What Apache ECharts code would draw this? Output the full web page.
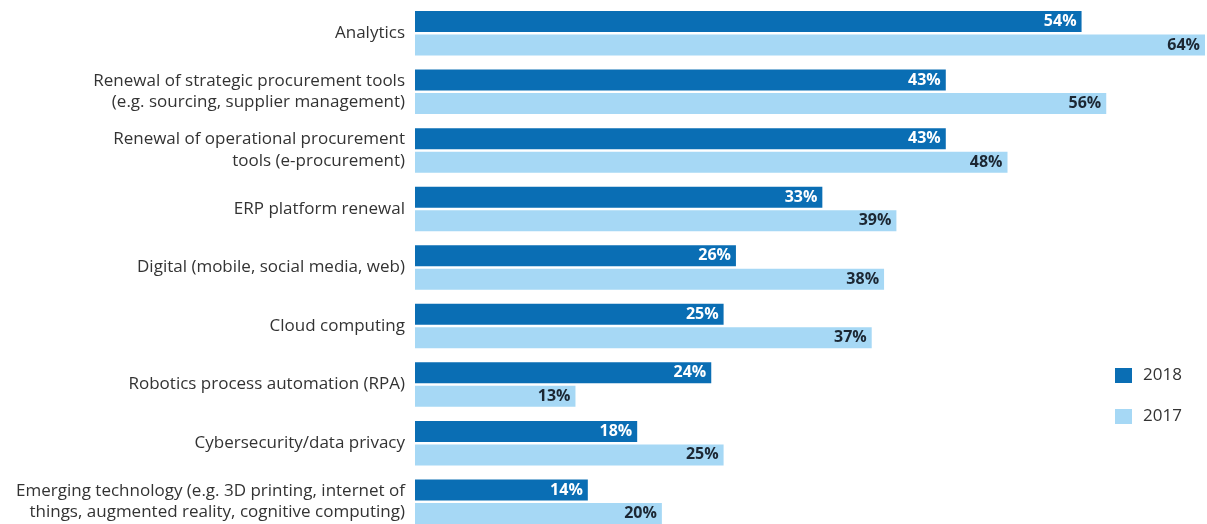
<!DOCTYPE html>
<html><head><meta charset="utf-8">
<script src="https://cdn.jsdelivr.net/npm/echarts@6/dist/echarts.min.js"></script>
<style>html,body{margin:0;padding:0;background:#fff}#c{width:1207px;height:524px}</style>
</head><body><div id="c"></div>
<script>
const categories = [
  "Analytics",
  "Renewal of strategic procurement tools\n(e.g. sourcing, supplier management)",
  "Renewal of operational procurement\ntools (e-procurement)",
  "ERP platform renewal",
  "Digital (mobile, social media, web)",
  "Cloud computing",
  "Robotics process automation (RPA)",
  "Cybersecurity/data privacy",
  "Emerging technology (e.g. 3D printing, internet of\nthings, augmented reality, cognitive computing)"
];
const values2018 = [54, 43, 43, 33, 26, 25, 24, 18, 14];
const values2017 = [64, 56, 48, 39, 38, 37, 13, 25, 20];
const seriesNames = ["2018", "2017"];

const chart = echarts.init(document.getElementById('c'));
chart.setOption({
  animation: false,
  textStyle: { fontFamily: 'Open Sans' },
  grid: { left: 415, top: 4, width: 790, height: 527, outerBoundsMode: 'none', containLabel: false },
  legend: {
    orient: 'vertical', left: 1110, top: 362, itemWidth: 17, itemHeight: 15, itemGap: 24,
    icon: 'rect', data: seriesNames,
    textStyle: { fontSize: 17, color: '#333', fontFamily: 'Open Sans', padding: [0, 0, 0, 6] }
  },
  xAxis: { type: 'value', min: 0, max: 64, show: false },
  yAxis: {
    type: 'category', data: categories, inverse: true,
    axisLine: { show: false }, axisTick: { show: false },
    axisLabel: { fontSize: 17, color: '#333', lineHeight: 21.5, margin: 10, align: 'right', fontFamily: 'Open Sans' }
  },
  series: [
    {
      name: seriesNames[0], type: 'bar', data: values2018, barWidth: 21, barGap: '12%',
      itemStyle: { color: '#0a6eb4' },
      label: { show: true, position: 'insideRight', formatter: '{c}%', color: '#fff', fontWeight: 'bold', fontSize: 16, fontFamily: 'Open Sans', distance: 5 }
    },
    {
      name: seriesNames[1], type: 'bar', data: values2017, barWidth: 21,
      itemStyle: { color: '#a6d8f5' },
      label: { show: true, position: 'insideRight', formatter: '{c}%', color: '#1c2733', fontWeight: 'bold', fontSize: 16, fontFamily: 'Open Sans', distance: 5 }
    }
  ]
});
</script></body></html>
